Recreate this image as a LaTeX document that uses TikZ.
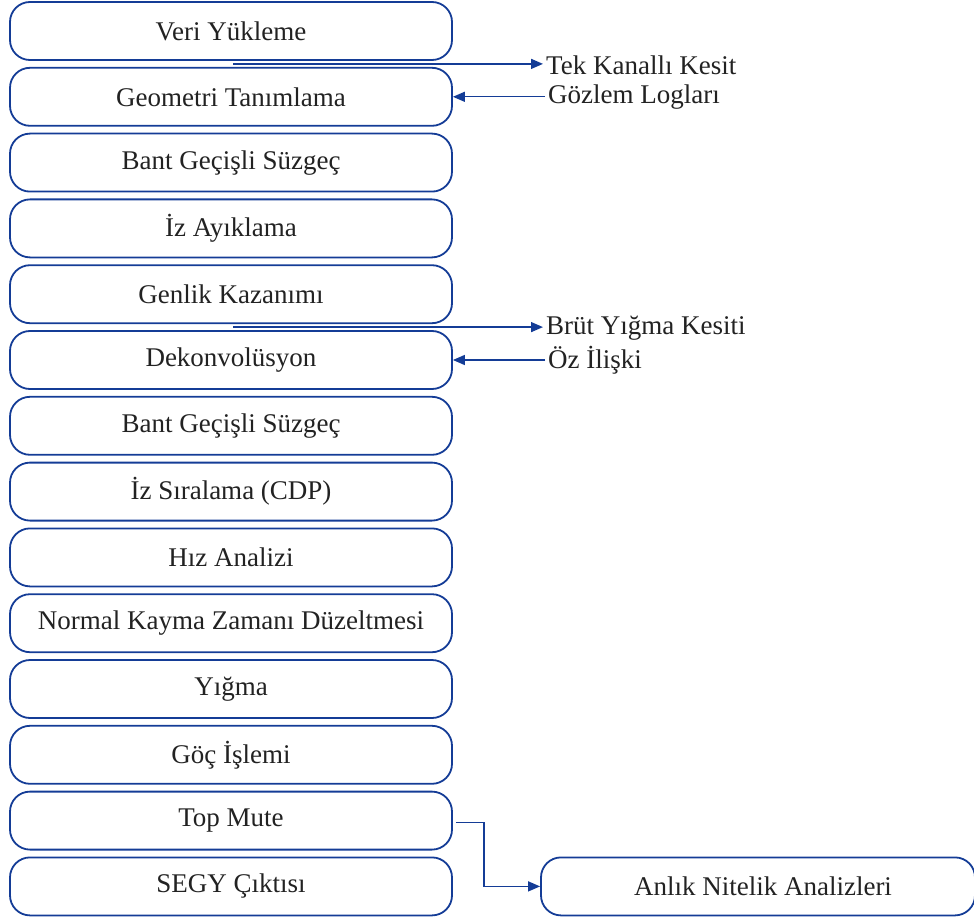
\documentclass[tikz,border=0pt]{standalone}
\usepackage{fontspec}
\setmainfont{Liberation Serif}
\usetikzlibrary{arrows.meta,calc}
\definecolor{boxblue}{RGB}{20,60,150}
\definecolor{txt}{RGB}{34,34,34}
\tikzset{
  stepbox/.style={draw=boxblue, line width=1.8pt, rounded corners=20pt,
    minimum width=442pt, minimum height=58pt, inner sep=0pt,
    text=txt, font=\fontsize{27}{31}\selectfont},
  sidelabel/.style={anchor=west, inner sep=3pt, text=txt, font=\fontsize{27}{31}\selectfont},
  conn/.style={draw=boxblue, line width=1.4pt, -{Triangle[length=12pt,width=10pt]}}
}
\begin{document}
\begin{tikzpicture}[x=1pt,y=-1pt]
\useasboundingbox (0,0) rectangle (974,920);
\begin{scope}
\clip (0,0) rectangle (974,920);
\foreach \n/\t [count=\i from 0] in {
  b1/Veri Yükleme,
  b2/Geometri Tanımlama,
  b3/Bant Geçişli Süzgeç,
  b4/İz Ayıklama,
  b5/Genlik Kazanımı,
  b6/Dekonvolüsyon,
  b7/Bant Geçişli Süzgeç,
  b8/İz Sıralama (CDP),
  b9/Hız Analizi,
  b10/Normal Kayma Zamanı Düzeltmesi,
  b11/Yığma,
  b12/Göç İşlemi,
  b13/Top Mute,
  b14/SEGY Çıktısı}
  { \node[stepbox] (\n) at (231,{31+65.8*\i}) {\t}; }

\node[stepbox, minimum width=434pt] (anlik) at (758,{31+65.8*13}) {\hspace*{10pt}Anlık Nitelik Analizleri};

\node[sidelabel] (tek) at (543,65) {Tek Kanallı Kesit};
\node[sidelabel] (goz) at (545,{31+65.8}) {Gözlem Logları};
\node[sidelabel] (brut) at (543,328) {Brüt Yığma Kesiti};
\node[sidelabel] (oz) at (545,{31+65.8*5}) {Öz İlişki};

\coordinate (g1) at ($(b1.south)!0.5!(b2.north)+(2,0)$);
\coordinate (g5) at ($(b5.south)!0.5!(b6.north)+(2,0)$);

\draw[conn] (g1) -- (g1 -| tek.west);
\draw[conn] (goz.west) -- (b2.east);
\draw[conn] (g5) -- (g5 -| brut.west);
\draw[conn] (oz.west) -- (b6.east);
\coordinate (tm) at ($(b13.east)+(3,2)$);
\draw[conn] (tm) -- ++(28,0) |- (anlik.west);
\end{scope}
\end{tikzpicture}
\end{document}
